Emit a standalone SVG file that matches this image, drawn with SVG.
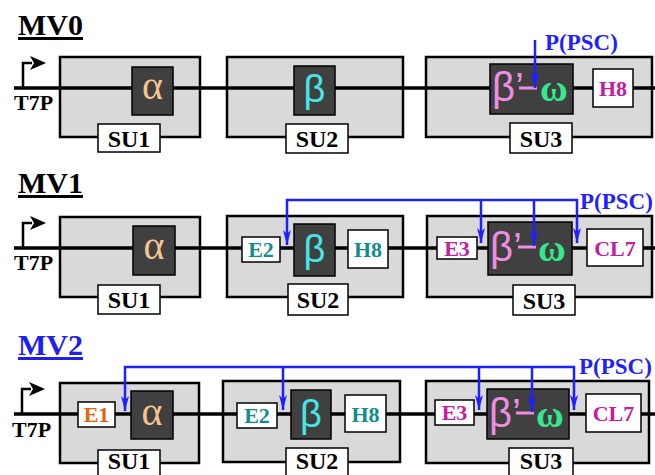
<svg xmlns="http://www.w3.org/2000/svg" width="655" height="475" viewBox="0 0 655 475">
<defs>
<style>
.t{font-family:"Liberation Serif",serif;font-weight:bold}
.ttl{font-family:"Liberation Serif",serif;font-weight:bold;font-size:30px;text-decoration:underline}
.bb{fill:#d9d9d9;stroke:#000;stroke-width:2.5}
.dk{fill:#404040;stroke:#000;stroke-width:1.5}
.wb{fill:#fff;stroke:#000;stroke-width:1.5}
.lbl{font-family:"Liberation Serif",serif;font-weight:bold;font-size:24px;text-anchor:middle}
.sm{font-family:"Liberation Serif",serif;font-weight:bold;font-size:22px;text-anchor:middle}
.dna{stroke:#000;stroke-width:3.5;fill:none}
.bl{stroke:#1f1fff;stroke-width:2.5;fill:none}
.alpha{font-family:"Liberation Serif",serif;font-size:40px;fill:#f7c38e;text-anchor:middle}
.beta{font-family:"Liberation Sans",sans-serif;font-size:38px;fill:#45e6e6;text-anchor:middle}
.bp{font-family:"Liberation Sans",sans-serif;font-size:40px;fill:#ee8ee0}
.om{font-family:"Liberation Serif",serif;font-weight:bold;font-size:38px;fill:#35e88e}
.psc{font-family:"Liberation Serif",serif;font-weight:bold;font-size:23px;fill:#1f1fff}
.teal{fill:#128c8c}
.mag{fill:#c0209e}
.org{fill:#e0650f}
</style>
<marker id="ah" viewBox="0 0 15 8" refX="15" refY="4" markerWidth="15" markerHeight="8" markerUnits="userSpaceOnUse" orient="auto-start-reverse">
<path d="M0,0 L15,4 L0,8 L4,4 Z" fill="#1f1fff"/>
</marker>
</defs>

<!-- Row 0: MV0 -->
<g id="mv0">
<text class="ttl" x="18" y="35">MV0</text>
<line class="dna" x1="14" y1="88" x2="655" y2="88"/>
<g id="mv0-t7p">
<path d="M23,88 V63 H32" stroke="#000" stroke-width="2.5" fill="none"/>
<polygon points="30,56 46,63 30,70 34,63" fill="#000"/>
<text class="t" x="14" y="110" font-size="22">T7P</text>
</g>
<g id="mv0-su1">
<rect class="bb" x="60" y="57" width="140" height="80"/>
<line class="dna" x1="60" y1="88" x2="200" y2="88"/>
<rect class="dk" x="132" y="67" width="41" height="48"/>
<text class="alpha" x="152.5" y="99">α</text>
<rect class="wb" x="98" y="124" width="62" height="28"/>
<text class="lbl" x="129" y="147">SU1</text>
</g>
<g id="mv0-su2">
<rect class="bb" x="227" y="57" width="176" height="80"/>
<line class="dna" x1="227" y1="88" x2="403" y2="88"/>
<rect class="dk" x="294" y="66" width="41" height="49"/>
<text class="beta" x="314.5" y="102">β</text>
<rect class="wb" x="286" y="124" width="62" height="29"/>
<text class="lbl" x="317" y="147">SU2</text>
</g>
<g id="mv0-su3">
<rect class="bb" x="426" y="57" width="226" height="80"/>
<line class="dna" x1="426" y1="88" x2="652" y2="88"/>
<rect class="dk" x="490" y="64" width="83" height="50"/>
<text class="bp" x="492" y="101">β’</text>
<line x1="519" y1="88" x2="537" y2="88" stroke="#ee8ee0" stroke-width="3"/>
<text class="om" x="540" y="101">ω</text>
<rect class="wb" x="593" y="69" width="40" height="38"/>
<text class="sm mag" x="613" y="96">H8</text>
<rect class="wb" x="510" y="123" width="62" height="30"/>
<text class="lbl" x="541" y="147">SU3</text>
</g>
<g id="mv0-psc">
<text class="psc" x="545" y="50">P(PSC)</text>
</g>
</g>

<!-- Row 1: MV1 -->
<g id="mv1">
<text class="ttl" x="18" y="193">MV1</text>
<line class="dna" x1="14" y1="248" x2="655" y2="248"/>
<g id="mv1-t7p">
<path d="M23,248 V223 H32" stroke="#000" stroke-width="2.5" fill="none"/>
<polygon points="30,216 46,223 30,230 34,223" fill="#000"/>
<text class="t" x="14" y="270" font-size="22">T7P</text>
</g>
<g id="mv1-su1">
<rect class="bb" x="60" y="217" width="140" height="80"/>
<line class="dna" x1="60" y1="248" x2="200" y2="248"/>
<rect class="dk" x="133" y="226" width="42" height="49"/>
<text class="alpha" x="154" y="259">α</text>
<rect class="wb" x="98" y="285" width="62" height="29"/>
<text class="lbl" x="129" y="308">SU1</text>
</g>
<g id="mv1-su2">
<rect class="bb" x="227" y="216" width="176" height="81"/>
<line class="dna" x1="227" y1="248" x2="403" y2="248"/>
<rect class="wb" x="242" y="237" width="38" height="25"/>
<text class="sm teal" x="261" y="257">E2</text>
<rect class="dk" x="294" y="224" width="41" height="52"/>
<text class="beta" x="314.5" y="262">β</text>
<rect class="wb" x="348" y="230" width="40" height="38"/>
<text class="sm teal" x="368" y="257">H8</text>
<rect class="wb" x="288" y="284" width="60" height="31"/>
<text class="lbl" x="318" y="308">SU2</text>
</g>
<g id="mv1-su3">
<rect class="bb" x="427" y="216" width="225" height="81"/>
<line class="dna" x1="427" y1="248" x2="652" y2="248"/>
<rect class="wb" x="437" y="237" width="40" height="22"/>
<text class="sm mag" x="457" y="256">E3</text>
<rect class="dk" x="488" y="222" width="84" height="53"/>
<text class="bp" x="490" y="261">β’</text>
<line x1="518" y1="247" x2="536" y2="247" stroke="#ee8ee0" stroke-width="3"/>
<text class="om" x="538" y="261">ω</text>
<rect class="wb" x="587" y="229" width="56" height="37"/>
<text class="sm mag" x="615" y="256">CL7</text>
<rect class="wb" x="513" y="285" width="62" height="30"/>
<text class="lbl" x="544" y="309">SU3</text>
</g>
<g id="mv1-psc">
<text class="psc" x="580" y="209">P(PSC)</text>
</g>
</g>

<!-- Row 2: MV2 -->
<g id="mv2">
<text class="ttl" x="18" y="355" fill="#2020ee">MV2</text>
<line class="dna" x1="14" y1="414" x2="655" y2="414"/>
<g id="mv2-t7p">
<path d="M22,414 V389 H31" stroke="#000" stroke-width="2.5" fill="none"/>
<polygon points="29,382 45,389 29,396 33,389" fill="#000"/>
<text class="t" x="12" y="437" font-size="22">T7P</text>
</g>
<g id="mv2-su1">
<rect class="bb" x="60" y="383" width="139" height="80"/>
<line class="dna" x1="60" y1="414" x2="199" y2="414"/>
<rect class="wb" x="78" y="402" width="37" height="25"/>
<text class="sm org" x="96.5" y="422">E1</text>
<rect class="dk" x="131" y="391" width="42" height="48"/>
<text class="alpha" x="152" y="425">α</text>
<rect class="wb" x="98" y="450" width="62" height="32"/>
<text class="lbl" x="129" y="469" font-size="23">SU1</text>
</g>
<g id="mv2-su2">
<rect class="bb" x="223" y="381" width="177" height="81"/>
<line class="dna" x1="223" y1="414" x2="400" y2="414"/>
<rect class="wb" x="237" y="403" width="40" height="25"/>
<text class="sm teal" x="257" y="423">E2</text>
<rect class="dk" x="291" y="390" width="40" height="49"/>
<text class="beta" x="311" y="427">β</text>
<rect class="wb" x="345" y="395" width="41" height="37"/>
<text class="sm teal" x="365.5" y="422">H8</text>
<rect class="wb" x="286" y="448" width="62" height="34"/>
<text class="lbl" x="317" y="469" font-size="23">SU2</text>
</g>
<g id="mv2-su3">
<rect class="bb" x="426" y="381" width="223" height="82"/>
<line class="dna" x1="426" y1="414" x2="649" y2="414"/>
<rect class="wb" x="435" y="400" width="39" height="25"/>
<text class="sm mag" x="454.5" y="420">E3</text>
<rect class="dk" x="487" y="389" width="82" height="50"/>
<text class="bp" x="489" y="427">β’</text>
<line x1="516" y1="413" x2="534" y2="413" stroke="#ee8ee0" stroke-width="3"/>
<text class="om" x="536" y="427">ω</text>
<rect class="wb" x="586" y="394" width="55" height="38"/>
<text class="sm mag" x="613.5" y="421">CL7</text>
<rect class="wb" x="509" y="448" width="64" height="34"/>
<text class="lbl" x="541" y="469" font-size="23">SU3</text>
</g>
<g id="mv2-psc">
<text class="psc" x="579" y="374">P(PSC)</text>
</g>
</g>

<g id="connectors">
<path class="bl" d="M535,40 V88" marker-end="url(#ah)"/>
<path class="bl" d="M287,245 V200 H577 V243" marker-start="url(#ah)" marker-end="url(#ah)"/>
<path class="bl" d="M481,200 V243" marker-end="url(#ah)"/>
<path class="bl" d="M534,200 V246" marker-end="url(#ah)"/>
<path class="bl" d="M125,411 V367 H574 V410" marker-start="url(#ah)" marker-end="url(#ah)"/>
<path class="bl" d="M283,367 V410" marker-end="url(#ah)"/>
<path class="bl" d="M479,367 V410" marker-end="url(#ah)"/>
<path class="bl" d="M532,367 V412" marker-end="url(#ah)"/>
</g>
</svg>
